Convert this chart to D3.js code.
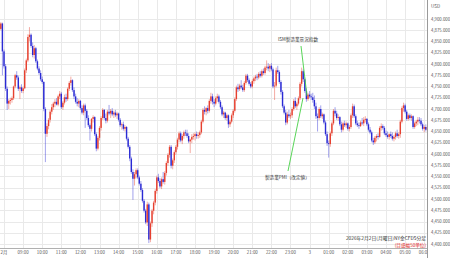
<!DOCTYPE html>
<html>
<head>
<meta charset="utf-8">
<script src="https://cdn.jsdelivr.net/npm/d3@7"></script>
<style>
  body { margin: 0; background: #fff; }
  svg { display: block; font-family: "Noto Sans CJK JP", "Noto Sans", sans-serif; }
</style>
</head>
<body>
<svg id="chart" width="450" height="258"></svg>
<script>
// NY金CFD 5分足, 2026/2/2 07:50 - 2/3 06:10 (JST clock, kept as UTC so nothing shifts)
var firstCandle = Date.UTC(2026, 1, 2, 7, 50);
var stepMinutes = 5;

// [open, high, low, close]
var ohlc = [
  [4878,4893,4875,4890],[4890,4892,4775,4828],[4828,4832,4790,4795],[4795,4800,4740,4745],[4745,4750,4698,4712],[4712,4722,4700,4718],
  [4718,4725,4710,4720],[4720,4728,4714,4724],[4724,4752,4720,4750],[4750,4778,4746,4775],[4775,4784,4765,4770],[4770,4774,4740,4745],
  [4745,4752,4722,4748],[4748,4755,4736,4740],[4740,4750,4735,4746],[4746,4790,4744,4786],[4786,4812,4780,4808],[4808,4866,4804,4860],
  [4860,4882,4850,4865],[4865,4868,4836,4840],[4840,4848,4815,4820],[4820,4842,4812,4835],[4835,4838,4802,4806],[4806,4810,4786,4790],
  [4790,4795,4776,4780],[4780,4786,4762,4766],[4766,4772,4756,4760],[4760,4762,4695,4700],[4700,4704,4582,4645],[4645,4668,4638,4662],
  [4662,4680,4655,4676],[4676,4698,4670,4694],[4694,4711,4688,4704],[4704,4716,4698,4712],[4712,4722,4704,4716],[4716,4724,4708,4710],
  [4710,4732,4706,4728],[4728,4740,4722,4734],[4734,4738,4700,4704],[4704,4718,4698,4714],[4714,4732,4710,4726],[4726,4734,4716,4722],
  [4722,4748,4718,4745],[4745,4762,4740,4758],[4758,4772,4752,4764],[4764,4766,4738,4742],[4742,4748,4722,4728],[4728,4734,4712,4716],
  [4716,4724,4706,4712],[4712,4722,4704,4718],[4718,4720,4698,4702],[4702,4708,4688,4692],[4692,4712,4686,4708],[4708,4712,4658,4696],
  [4696,4700,4676,4680],[4680,4686,4660,4664],[4664,4668,4630,4656],[4656,4680,4650,4678],[4678,4686,4670,4682],[4682,4684,4640,4644],
  [4644,4648,4606,4612],[4612,4640,4608,4636],[4636,4662,4630,4658],[4658,4684,4652,4680],[4680,4702,4676,4698],[4698,4700,4676,4680],
  [4680,4690,4668,4674],[4674,4698,4670,4694],[4694,4709,4686,4690],[4690,4700,4680,4696],[4696,4702,4684,4688],[4688,4696,4680,4692],
  [4692,4698,4682,4686],[4686,4694,4678,4690],[4690,4692,4672,4676],[4676,4680,4660,4664],[4664,4670,4654,4666],[4666,4672,4652,4656],
  [4656,4664,4650,4660],[4660,4662,4630,4634],[4634,4638,4612,4616],[4616,4620,4584,4590],[4590,4594,4556,4560],[4560,4566,4498,4545],
  [4545,4560,4530,4555],[4555,4568,4546,4564],[4564,4568,4544,4548],[4548,4552,4530,4534],[4534,4540,4516,4520],[4520,4524,4492,4496],
  [4496,4500,4470,4474],[4474,4478,4444,4448],[4448,4494,4440,4488],[4488,4492,4402,4410],[4410,4450,4404,4446],[4446,4478,4438,4474],
  [4474,4496,4466,4492],[4492,4522,4486,4518],[4518,4552,4512,4548],[4548,4556,4536,4540],[4540,4546,4524,4528],[4528,4548,4522,4544],
  [4544,4560,4534,4538],[4538,4562,4532,4558],[4558,4584,4552,4580],[4580,4602,4574,4598],[4598,4620,4592,4616],[4616,4620,4568,4574],
  [4574,4590,4566,4586],[4586,4608,4580,4604],[4604,4620,4598,4616],[4616,4636,4610,4632],[4632,4650,4626,4646],[4646,4650,4626,4630],
  [4630,4644,4622,4640],[4640,4652,4634,4648],[4648,4654,4640,4646],[4646,4654,4636,4640],[4640,4646,4624,4628],[4628,4634,4602,4632],
  [4632,4644,4624,4638],[4638,4646,4632,4640],[4640,4648,4630,4644],[4644,4650,4634,4640],[4640,4648,4634,4642],[4642,4652,4636,4648],
  [4648,4676,4644,4672],[4672,4702,4668,4698],[4698,4706,4688,4694],[4694,4704,4686,4702],[4702,4708,4690,4696],[4696,4722,4692,4718],
  [4718,4736,4712,4728],[4728,4734,4710,4716],[4716,4722,4704,4712],[4712,4728,4708,4724],[4724,4734,4716,4728],[4728,4732,4712,4716],
  [4716,4720,4700,4704],[4704,4708,4684,4688],[4688,4696,4680,4692],[4692,4694,4676,4680],[4680,4690,4674,4686],[4686,4688,4658,4666],
  [4666,4676,4660,4672],[4672,4690,4668,4686],[4686,4700,4680,4696],[4696,4726,4692,4722],[4722,4752,4718,4748],[4748,4756,4738,4744],
  [4744,4756,4740,4752],[4752,4764,4744,4748],[4748,4754,4738,4742],[4742,4762,4738,4758],[4758,4778,4754,4774],[4774,4778,4760,4764],
  [4764,4768,4752,4756],[4756,4760,4746,4750],[4750,4766,4746,4762],[4762,4772,4756,4768],[4768,4776,4762,4772],[4772,4778,4764,4770],
  [4770,4782,4766,4778],[4778,4784,4770,4774],[4774,4788,4770,4784],[4784,4790,4776,4780],[4780,4796,4776,4792],[4792,4808,4786,4794],
  [4794,4802,4784,4790],[4790,4800,4782,4796],[4796,4802,4784,4788],[4788,4792,4746,4750],[4750,4760,4720,4752],[4752,4792,4748,4786],
  [4786,4796,4778,4782],[4782,4786,4756,4760],[4760,4764,4732,4738],[4738,4742,4702,4706],[4706,4710,4688,4692],[4692,4698,4664,4670],
  [4670,4694,4666,4688],[4688,4698,4680,4684],[4684,4692,4678,4686],[4686,4704,4680,4700],[4700,4722,4696,4718],[4718,4726,4702,4706],
  [4706,4716,4698,4712],[4712,4728,4708,4724],[4724,4760,4720,4756],[4756,4792,4750,4784],[4784,4788,4760,4766],[4766,4770,4736,4740],
  [4740,4746,4716,4722],[4722,4736,4718,4732],[4732,4740,4724,4728],[4728,4734,4720,4726],[4726,4736,4714,4720],[4720,4730,4700,4706],
  [4706,4714,4678,4684],[4684,4690,4650,4680],[4680,4704,4676,4700],[4700,4708,4680,4684],[4684,4692,4678,4688],[4688,4690,4666,4670],
  [4670,4674,4640,4644],[4644,4650,4618,4624],[4624,4630,4592,4622],[4622,4650,4616,4646],[4646,4672,4640,4668],[4668,4700,4664,4696],
  [4696,4704,4684,4690],[4690,4696,4676,4680],[4680,4688,4674,4682],[4682,4684,4662,4666],[4666,4672,4648,4654],[4654,4672,4650,4668],
  [4668,4674,4660,4664],[4664,4672,4658,4668],[4668,4670,4652,4656],[4656,4664,4650,4660],[4660,4690,4656,4686],[4686,4712,4680,4706],
  [4706,4710,4680,4684],[4684,4688,4664,4668],[4668,4674,4660,4664],[4664,4670,4656,4662],[4662,4674,4660,4670],[4670,4680,4664,4668],
  [4668,4682,4662,4676],[4676,4684,4670,4678],[4678,4680,4662,4666],[4666,4670,4650,4654],[4654,4660,4644,4648],[4648,4652,4626,4630],
  [4630,4636,4620,4626],[4626,4640,4622,4636],[4636,4644,4628,4640],[4640,4646,4632,4638],[4638,4662,4636,4658],[4658,4668,4652,4662],
  [4662,4666,4654,4658],[4658,4662,4642,4646],[4646,4652,4638,4642],[4642,4650,4634,4638],[4638,4646,4632,4644],[4644,4650,4636,4640],
  [4640,4648,4630,4634],[4634,4642,4628,4638],[4638,4650,4632,4646],[4646,4654,4636,4640],[4640,4648,4634,4644],[4644,4676,4636,4672],
  [4672,4706,4668,4702],[4702,4714,4694,4708],[4708,4712,4690,4694],[4694,4698,4674,4678],[4678,4690,4674,4686],[4686,4690,4676,4680],
  [4680,4688,4674,4684],[4684,4686,4656,4660],[4660,4672,4656,4668],[4668,4676,4662,4672],[4672,4682,4664,4676],[4676,4682,4668,4674],
  [4674,4680,4662,4666],[4666,4670,4652,4656],[4656,4664,4648,4660],[4660,4666,4650,4654],[4654,4664,4650,4660]
];

var priceTicks = [4400, 4425, 4450, 4475, 4500, 4525, 4550, 4575, 4600, 4625, 4650,
                  4675, 4700, 4725, 4750, 4775, 4800, 4825, 4850, 4875, 4900];

// one label per hour from 2/2 08:00 to 2/3 06:00
var hourLabels = ["2月", "09:00", "10:00", "11:00", "12:00", "13:00", "14:00", "15:00",
                  "16:00", "17:00", "18:00", "19:00", "20:00", "21:00", "22:00", "23:00",
                  "3", "01:00", "02:00", "03:00", "04:00", "05:00", "06:00"];
var firstHour = Date.UTC(2026, 1, 2, 8, 0);

var events = [
  {label: "ISM製造業景況指数", tx: 278, ty: 41, from: [301, 46], to: [307, 96]},
  {label: "製造業PMI（改定値）", tx: 265, ty: 179, from: [288, 171], to: [303, 98]}
];

var upColor = "#e6402f",
  downColor = "#2a2ad4",
  gridColor = "#e9e9e9";

var svg = d3.select("#chart");
var plotRight = 427, plotBottom = 248;

var x = d3.scaleUtc()
  .domain([firstHour, firstHour + 22 * 3600e3])
  .range([4, 424.2]);

var y = d3.scaleLinear()
  .domain([4400, 4900])
  .range([244, 19]);

svg.append("rect").attr("width", 450).attr("height", 258).attr("fill", "#fff");

svg.append("clipPath").attr("id", "plotclip")
  .append("rect").attr("x", 0).attr("y", 0).attr("width", plotRight).attr("height", 258);

var hours = hourLabels.map(function(d, i) { return new Date(firstHour + i * 3600e3); });

// grid
svg.append("g").selectAll("line")
  .data(priceTicks).enter().append("line")
  .attr("x1", 0).attr("x2", plotRight)
  .attr("y1", function(d) { return Math.round(y(d)) + 0.5; })
  .attr("y2", function(d) { return Math.round(y(d)) + 0.5; })
  .attr("stroke", gridColor).attr("stroke-width", 1);

svg.append("g").selectAll("line")
  .data(hours).enter().append("line")
  .attr("x1", function(d) { return Math.round(x(d)) + 0.5; })
  .attr("x2", function(d) { return Math.round(x(d)) + 0.5; })
  .attr("y1", 0).attr("y2", plotBottom)
  .attr("stroke", gridColor).attr("stroke-width", 1);

// candles
var candles = svg.append("g").attr("clip-path", "url(#plotclip)")
  .selectAll("g").data(ohlc).enter().append("g");

function candleX(i) { return x(new Date(firstCandle + i * stepMinutes * 60e3)); }
function candleColor(d) { return d[3] >= d[0] ? upColor : downColor; }

candles.append("line")
  .attr("x1", function(d, i) { return candleX(i); })
  .attr("x2", function(d, i) { return candleX(i); })
  .attr("y1", function(d) { return y(d[1]); })
  .attr("y2", function(d) { return y(d[2]); })
  .attr("stroke", candleColor).attr("stroke-opacity", 0.55).attr("stroke-width", 0.8);

candles.append("rect")
  .attr("x", function(d, i) { return candleX(i) - 0.7; })
  .attr("width", 1.4)
  .attr("y", function(d) { return y(Math.max(d[0], d[3])); })
  .attr("height", function(d) { return Math.max(0.7, Math.abs(y(d[0]) - y(d[3]))); })
  .attr("fill", candleColor);

// event annotations
var ev = svg.append("g");
ev.selectAll("line").data(events).enter().append("line")
  .attr("x1", function(d) { return d.from[0]; }).attr("y1", function(d) { return d.from[1]; })
  .attr("x2", function(d) { return d.to[0]; }).attr("y2", function(d) { return d.to[1]; })
  .attr("stroke", "#46d046").attr("stroke-width", 0.9);
ev.selectAll("text").data(events).enter().append("text")
  .attr("x", function(d) { return d.tx; }).attr("y", function(d) { return d.ty; })
  .attr("font-size", 4.6).attr("fill", "#333")
  .text(function(d) { return d.label; });

// bottom axis
svg.append("line")
  .attr("x1", 0).attr("x2", plotRight)
  .attr("y1", plotBottom + 0.5).attr("y2", plotBottom + 0.5)
  .attr("stroke", "#b0b0b0");

svg.append("g").attr("clip-path", "url(#plotclip)")
  .selectAll("text").data(hours).enter().append("text")
  .attr("x", function(d) { return x(d); })
  .attr("y", 254)
  .attr("text-anchor", "middle")
  .attr("font-size", 4.4).attr("fill", "#555")
  .text(function(d, i) { return hourLabels[i]; });

// right axis
svg.append("line")
  .attr("x1", plotRight + 0.5).attr("x2", plotRight + 0.5)
  .attr("y1", 0).attr("y2", 258)
  .attr("stroke", "#9a9a9a");

svg.append("g").selectAll("text")
  .data(priceTicks).enter().append("text")
  .attr("x", 431)
  .attr("y", function(d) { return y(d) + 1.5; })
  .attr("font-size", 4.3).attr("fill", "#555")
  .text(d3.format(",.3f"));

svg.append("text").attr("x", 431).attr("y", 8)
  .attr("font-size", 4.6).attr("fill", "#555").text("USD");

// footer note
svg.append("text").attr("x", 426).attr("y", 240)
  .attr("text-anchor", "end").attr("font-size", 4.8).attr("fill", "#333")
  .text("2026年2月2日(月曜日)NY金CFD5分足");
svg.append("text").attr("x", 426).attr("y", 246.5)
  .attr("text-anchor", "end").attr("font-size", 4.6).attr("fill", "#e02020")
  .text("(目盛幅50単位)");
</script>
</body>
</html>
